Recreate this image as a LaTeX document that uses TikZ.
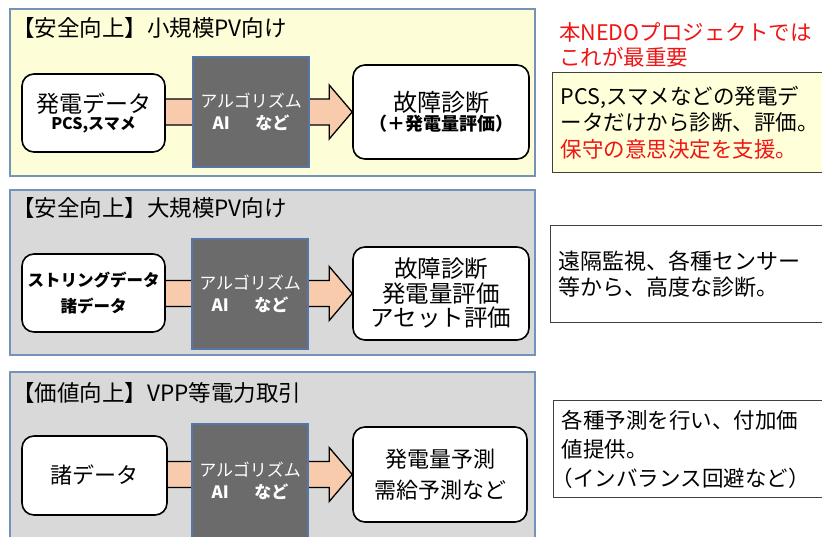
\documentclass[tikz,border=0pt]{standalone}
\usepackage{fontspec}
\setmainfont{Noto Sans CJK JP}
\usetikzlibrary{calc}
\pgfdeclarelayer{bg}\pgfdeclarelayer{mid}\pgfsetlayers{bg,mid,main}
\definecolor{panelY}{HTML}{FDFDD8}
\definecolor{panelG}{HTML}{D9D9D9}
\definecolor{panelB}{HTML}{7393BA}
\definecolor{algF}{HTML}{6B6B6B}
\definecolor{algB}{HTML}{5576A6}
\definecolor{arrF}{HTML}{F8CBAD}
\definecolor{noteY}{HTML}{FFFFD9}
\definecolor{noteB}{HTML}{404040}
\definecolor{redT}{HTML}{F01414}
\newcommand\bigarrowdraw[2]{%
  \draw[arrowstyle] ($(#1.east |- #2.west)+(-2,-13)$) -- ($(#2.west)+(-23,-13)$) -- ($(#2.west)+(-23,-27)$) -- (#2.west) -- ($(#2.west)+(-23,27)$) -- ($(#2.west)+(-23,13)$) -- ($(#1.east |- #2.west)+(-2,13)$) -- cycle;}
\begin{document}
\begin{tikzpicture}[x=1pt,y=-1pt,
  panel/.style={draw=panelB, line width=1.5pt},
  title/.style={anchor=west, inner sep=0pt, font=\fontsize{22.5}{26}\selectfont},
  databox/.style={draw=black, fill=white, rounded corners=12pt, line width=1.6pt, inner sep=0pt, align=center},
  algbox/.style={draw=algB, fill=algF, line width=1.5pt, inner sep=0pt, align=center, text=white, minimum width=116pt, font=\fontsize{17}{22}\selectfont},
  arrowstyle/.style={draw=black, fill=arrF, line width=1.3pt, line join=miter},
  note/.style={draw=noteB, line width=1.3pt, anchor=north west, align=left, inner xsep=8pt, text width=290pt, minimum width=306pt},
]
\useasboundingbox (0,0) rectangle (822,536);
\begin{pgfonlayer}{bg}
\fill[white] (0,0) rectangle (822,536);
\draw[panel, fill=panelY] (10,9) rectangle (535,176);
\draw[panel, fill=panelG] (10,190) rectangle (535,355);
\draw[panel, fill=panelG] (10,372) rectangle (535,560);
\end{pgfonlayer}

% panel 1
\node[title] (T1) at (12,28) {【安全向上】小規模PV向け};
\node[databox, minimum width=143pt, minimum height=78pt] (L1) at (93.5,113)
  {{\fontsize{23}{27}\selectfont 発電データ}\\[1pt]{\bfseries\fontsize{16}{20}\selectfont PCS,スマメ}};
\node[algbox, minimum height=110pt] (A1) at (251,112) {アルゴリズム\\\textbf{AI\hspace{1.5em}など}};
\node[databox, minimum width=176pt, minimum height=94pt] (R1) at (441,112)
  {{\fontsize{24}{28}\selectfont 故障診断}\\[1pt]{\bfseries\fontsize{18}{20}\selectfont （＋発電量評価）}};

% panel 2
\node[title] (T2) at (12,208) {【安全向上】大規模PV向け};
\node[databox, minimum width=143pt, minimum height=78pt, font=\bfseries\fontsize{16.5}{26}\selectfont] (L2) at (93.5,293)
  {ストリングデータ\\諸データ};
\node[algbox, minimum height=110pt] (A2) at (250,294) {アルゴリズム\\\textbf{AI\hspace{1.5em}など}};
\node[databox, minimum width=176pt, minimum height=93pt, font=\fontsize{23.5}{24.5}\selectfont] (R2) at (441,293.5)
  {故障診断\\発電量評価\\アセット評価};

% panel 3
\node[title] (T3) at (12,393) {【価値向上】VPP等電力取引};
\node[databox, minimum width=145pt, minimum height=79pt, font=\fontsize{22}{26}\selectfont] (L3) at (94.5,475.5) {諸データ};
\node[algbox, minimum height=114pt] (A3) at (250,481) {アルゴリズム\\\textbf{AI\hspace{1.5em}など}};
\node[databox, minimum width=174pt, minimum height=95pt, font=\fontsize{22}{31}\selectfont] (R3) at (440,474.5)
  {発電量予測\\需給予測など};

% arrows
\begin{pgfonlayer}{mid}
\bigarrowdraw{L1}{R1}
\bigarrowdraw{L2}{R2}
\bigarrowdraw{L3}{R3}
\end{pgfonlayer}

% right side
\node[anchor=west, align=left, text=redT, inner sep=0pt, font=\fontsize{21.5}{25}\selectfont] (H) at (559,44.5)
  {本NEDOプロジェクトでは\\これが最重要};
\node[note, fill=noteY, minimum height=100pt, font=\fontsize{21.5}{26.5}\selectfont] (N1) at (552,72)
  {PCS,スマメなどの発電デ\\ータだけから診断、評価。\\\textcolor{redT}{保守の意思決定を支援。}};
\node[note, fill=white, minimum height=97pt, font=\fontsize{22}{26}\selectfont] (N2) at (550,225)
  {遠隔監視、各種センサー\\等から、高度な診断。};
\node[note, fill=white, minimum height=97pt, font=\fontsize{21.5}{29}\selectfont] (N3) at (553,400)
  {各種予測を行い、付加価\\値提供。\\\hspace*{-0.45em}（インバランス回避など）};
\end{tikzpicture}
\end{document}
